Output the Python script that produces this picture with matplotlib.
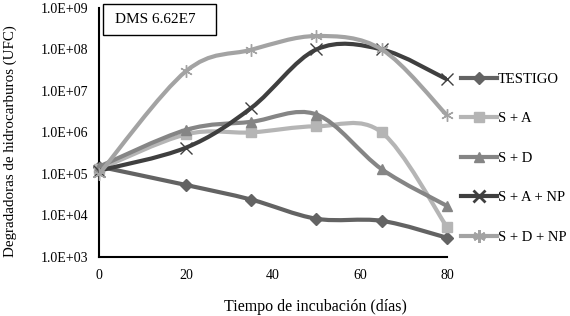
import matplotlib.pyplot as plt
import numpy as np
from matplotlib.path import Path
from matplotlib.patches import PathPatch, Rectangle

plt.rcParams['font.family'] = ['Liberation Serif', 'DejaVu Serif']

dias = [0, 20, 35, 50, 65, 80]
testigo = [1.5e5, 5.4e4, 2.4e4, 8.3e3, 7.4e3, 2.9e3]
s_a = [1.3e5, 9.0e5, 1.0e6, 1.4e6, 1.0e6, 5.3e3]
s_d = [1.5e5, 1.15e6, 1.8e6, 2.7e6, 1.3e5, 1.7e4]
s_a_np = [1.2e5, 4.3e5, 3.9e6, 1.0e8, 1.0e8, 1.9e7]
s_d_np = [1.0e5, 3.0e7, 9.8e7, 2.1e8, 1.0e8, 2.6e6]

series = [
    ("TESTIGO", testigo, "#636363", "D", 6, 1),
    ("S + A", s_a, "#b5b5b5", "s", 7, 1),
    ("S + D", s_d, "#858585", "^", 7, 1),
    ("S + A + NP", s_a_np, "#3f3f3f", "x", 8, 1.0),
    ("S + D + NP", s_d_np, "#a3a3a3", (6, 2, 0), 9, 1.0),
]


def smooth_path(x, y):
    # Excel-style smoothed line: cubic Bezier segments, control points in log space
    x = np.asarray(x, float)
    ly = np.log10(y)
    n = len(x)
    verts = [(x[0], ly[0])]
    codes = [Path.MOVETO]
    for i in range(n - 1):
        i0 = max(i - 1, 0)
        i3 = min(i + 2, n - 1)
        c1 = (x[i] + (x[i + 1] - x[i0]) / 6, ly[i] + (ly[i + 1] - ly[i0]) / 6)
        c2 = (x[i + 1] - (x[i3] - x[i]) / 6, ly[i + 1] - (ly[i3] - ly[i]) / 6)
        verts += [c1, c2, (x[i + 1], ly[i + 1])]
        codes += [Path.CURVE4] * 3
    verts = [(vx, 10 ** vy) for vx, vy in verts]
    return Path(verts, codes)


fig = plt.figure(figsize=(5.7, 3.16), dpi=100)
ax = fig.add_axes([0.174, 0.187, 0.61, 0.788])
ax.set_yscale("log")
ax.set_xlim(0, 80)
ax.set_ylim(1e3, 1e9)

for k, (name, vals, col, mk, ms, mew) in enumerate(series):
    patch = PathPatch(smooth_path(dias, vals), facecolor="none", edgecolor=col,
                      lw=3, capstyle="round", zorder=2 + k)
    ax.add_patch(patch)
    ax.plot(dias, vals, linestyle="none", marker=mk, markersize=ms, color=col,
            markeredgewidth=mew, zorder=2.5 + k, clip_on=False)
    ax.plot([], [], color=col, lw=3, marker=mk, markersize=ms,
            markeredgewidth=mew if mk not in ("x", (6, 2, 0)) else 2, label=name)

ax.set_xticks([0, 20, 40, 60, 80])
ax.set_yticks([1e3, 1e4, 1e5, 1e6, 1e7, 1e8, 1e9])
ax.set_yticklabels(["1.0E+03", "1.0E+04", "1.0E+05", "1.0E+06",
                    "1.0E+07", "1.0E+08", "1.0E+09"])
ax.minorticks_off()
ax.tick_params(length=0, labelsize=10, pad=8)
ax.tick_params(axis="x", pad=9)
for s in ["top", "right"]:
    ax.spines[s].set_visible(False)
for s in ["left", "bottom"]:
    ax.spines[s].set_linewidth(1.5)
    ax.spines[s].set_color("black")

fig.text(0.554, 0.03, "Tiempo de incubación (días)", fontsize=11.5,
         ha="center", va="center")
fig.text(0.0175, 0.552, "Degradadoras de hidrocarburos (UFC)", fontsize=10.8,
         ha="center", va="center", rotation=90)

ax.add_patch(Rectangle((0.0115, 0.892), 0.325, 0.124, transform=ax.transAxes,
                       facecolor="white", edgecolor="black", lw=1, clip_on=False, zorder=10))
ax.text(0.046, 0.952, "DMS 6.62E7", transform=ax.transAxes, fontsize=11,
        va="center", ha="left", zorder=11)

fig.legend(loc="upper left", bbox_to_anchor=(0.809, 0.77), frameon=False,
           fontsize=10.5, labelspacing=1.8, handlelength=2.45, handletextpad=0.05,
           borderpad=0, borderaxespad=0)

fig.savefig("out.png", dpi=100)
